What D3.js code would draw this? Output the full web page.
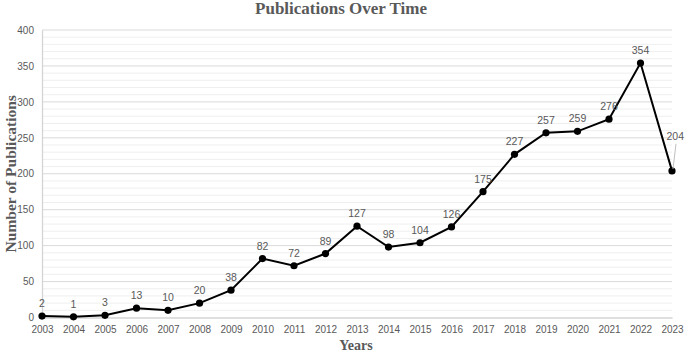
<!DOCTYPE html>
<html>
<head>
<meta charset="utf-8">
<script src="https://cdn.jsdelivr.net/npm/d3@7"></script>
<style>
  body { margin: 0; background: #fff; }
  svg { display: block; }
</style>
</head>
<body>
<svg id="chart"></svg>
<script>
// chart data
const years = [2003, 2004, 2005, 2006, 2007, 2008, 2009, 2010, 2011, 2012, 2013,
	2014, 2015, 2016, 2017, 2018, 2019, 2020, 2021, 2022, 2023];
const publications = [2, 1, 3, 13, 10, 20, 38, 82, 72, 89, 127,
	98, 104, 126, 175, 227, 257, 259, 276, 354, 204];
const yTicks = [0, 50, 100, 150, 200, 250, 300, 350, 400];

const data = years.map((y, i) => ({ year: y, value: publications[i] }));

const W = 685, H = 353;
const margin = { top: 30, right: 13, bottom: 35.5, left: 42 };
const width = W - margin.left - margin.right;
const height = H - margin.top - margin.bottom;

const svg = d3.select("#chart")
	.attr("width", W)
	.attr("height", H);

const g = svg.append("g")
	.attr("transform", `translate(${margin.left},${margin.top})`);

const x = d3.scalePoint().domain(years).range([0, width]);
const y = d3.scaleLinear().domain([0, 400]).range([height, 0]);

// minor gridlines every 10
g.append("g")
	.selectAll("line")
	.data(d3.range(10, 400, 10).filter(v => v % 50 !== 0))
	.enter()
	.append("line")
	.attr("x1", 0).attr("x2", width)
	.attr("y1", d => y(d)).attr("y2", d => y(d))
	.style("stroke", "#efefef")
	.style("stroke-width", 1);

// major gridlines
g.append("g")
	.selectAll("line")
	.data(yTicks.slice(1))
	.enter()
	.append("line")
	.attr("x1", 0).attr("x2", width)
	.attr("y1", d => y(d)).attr("y2", d => y(d))
	.style("stroke", "#dadada")
	.style("stroke-width", 1);

// y axis
const yAxis = g.append("g")
	.call(d3.axisLeft(y).tickValues(yTicks).tickSize(0).tickPadding(8));
yAxis.select(".domain").style("stroke", "#d4d4d4").style("stroke-width", 1.3);
yAxis.selectAll("text")
	.style("font-family", "Liberation Sans, Arial, sans-serif")
	.style("font-size", "10px")
	.style("fill", "#595959");

// x axis
const xAxis = g.append("g")
	.attr("transform", `translate(0,${height})`)
	.call(d3.axisBottom(x).tickSize(0).tickPadding(8));
xAxis.select(".domain").style("stroke", "#d4d4d4").style("stroke-width", 1.3);
xAxis.selectAll("text")
	.style("font-family", "Liberation Sans, Arial, sans-serif")
	.style("font-size", "10px")
	.style("fill", "#595959");

// line
const line = d3.line()
	.x(d => x(d.year))
	.y(d => y(d.value));

g.append("path")
	.datum(data)
	.attr("d", line)
	.style("fill", "none")
	.style("stroke", "#000")
	.style("stroke-width", 2);

g.selectAll(".dot")
	.data(data)
	.enter()
	.append("circle")
	.attr("class", "dot")
	.attr("cx", d => x(d.year))
	.attr("cy", d => y(d.value))
	.attr("r", 3.6)
	.style("fill", "#000");

// data labels (last one is pulled out with a leader line)
const last = data[data.length - 1];
g.selectAll(".label")
	.data(data.slice(0, -1))
	.enter()
	.append("text")
	.attr("class", "label")
	.attr("x", d => x(d.year))
	.attr("y", d => y(d.value) - 9)
	.attr("text-anchor", "middle")
	.style("font-family", "Liberation Sans, Arial, sans-serif")
	.style("font-size", "10.5px")
	.style("fill", "#595959")
	.text(d => d.value);

g.append("line")
	.attr("x1", x(last.year) + 1)
	.attr("y1", y(last.value) - 2)
	.attr("x2", x(last.year) + 4)
	.attr("y2", y(last.value) - 27)
	.style("stroke", "#bfbfbf")
	.style("stroke-width", 1);

g.append("text")
	.attr("x", x(last.year) + 12)
	.attr("y", y(last.value) - 31)
	.attr("text-anchor", "end")
	.style("font-family", "Liberation Sans, Arial, sans-serif")
	.style("font-size", "10.5px")
	.style("fill", "#595959")
	.text(last.value);

// title
svg.append("text")
	.attr("x", 341)
	.attr("y", 14)
	.attr("text-anchor", "middle")
	.style("font-family", "Liberation Serif, serif")
	.style("font-weight", "bold")
	.style("font-size", "17px")
	.style("fill", "#595959")
	.text("Publications Over Time");

// axis titles
svg.append("text")
	.attr("x", 356)
	.attr("y", 350)
	.attr("text-anchor", "middle")
	.style("font-family", "Liberation Serif, serif")
	.style("font-weight", "bold")
	.style("font-size", "14px")
	.style("fill", "#595959")
	.text("Years");

svg.append("text")
	.attr("transform", `translate(16,${margin.top + height / 2}) rotate(-90)`)
	.attr("text-anchor", "middle")
	.style("font-family", "Liberation Serif, serif")
	.style("font-weight", "bold")
	.style("font-size", "15.5px")
	.style("fill", "#595959")
	.text("Number of Publications");
</script>
</body>
</html>
